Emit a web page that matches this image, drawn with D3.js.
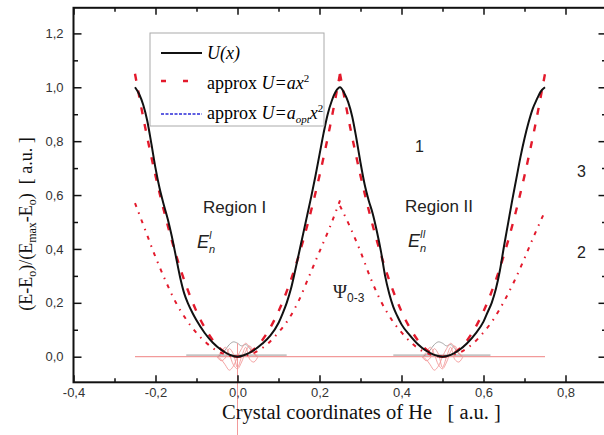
<!DOCTYPE html>
<html>
<head>
<meta charset="utf-8">
<script src="https://cdn.jsdelivr.net/npm/d3@7"></script>
<style>
body { margin: 0; background: #fff; }
svg { display: block; }
text { font-family: "Liberation Sans", Arial, sans-serif; }
.serif { font-family: "Liberation Serif", "Times New Roman", serif; }
</style>
</head>
<body>
<div id="vis"></div>
<script>
// axis ticks
var xMajor = [-0.4, -0.2, 0, 0.2, 0.4, 0.6, 0.8];
var xMinor = [-0.3, -0.1, 0.1, 0.3, 0.5, 0.7];
var yMajor = [0, 0.2, 0.4, 0.6, 0.8, 1.0, 1.2];
var yMinor = [0.1, 0.3, 0.5, 0.7, 0.9, 1.1];

// U(x)
var uX = [-0.25,-0.24,-0.23,-0.22,-0.21,-0.20,-0.19,-0.18,-0.17,-0.16,-0.15,-0.14,-0.13,-0.12,-0.11,-0.10,-0.08,-0.06,-0.04,-0.02,0,
          0.02,0.04,0.06,0.08,0.10,0.11,0.12,0.13,0.14,0.15,0.16,0.17,0.18,0.19,0.20,0.21,0.22,0.23,0.24,0.25,
          0.26,0.27,0.28,0.29,0.30,0.31,0.32,0.33,0.34,0.35,0.36,0.37,0.38,0.39,0.40,0.42,0.44,0.46,0.48,0.50,
          0.52,0.54,0.56,0.58,0.60,0.61,0.62,0.63,0.64,0.65,0.66,0.67,0.68,0.69,0.70,0.71,0.72,0.73,0.74,0.75];
var uY = [1.0,0.975,0.935,0.875,0.79,0.70,0.625,0.565,0.51,0.445,0.37,0.295,0.235,0.195,0.163,0.135,0.088,0.052,0.026,0.008,0,
          0.008,0.024,0.048,0.078,0.125,0.16,0.2,0.25,0.315,0.385,0.455,0.525,0.595,0.67,0.75,0.83,0.9,0.95,0.985,1.0,
          0.98,0.945,0.89,0.81,0.72,0.64,0.58,0.53,0.465,0.39,0.3,0.235,0.185,0.15,0.12,0.08,0.046,0.022,0.007,0,
          0.007,0.024,0.05,0.085,0.13,0.165,0.2,0.25,0.32,0.41,0.495,0.58,0.66,0.74,0.81,0.87,0.92,0.955,0.985,1.0];

// approx U=ax^2 (red dashed), one per well
var axX1 = [-0.25,-0.225,-0.2,-0.175,-0.15,-0.125,-0.1,-0.075,-0.05,-0.025,0,0.025,0.05,0.075,0.1,0.125,0.15,0.175,0.2,0.225,0.25];
var axY1 = [1.05,0.85,0.672,0.515,0.378,0.263,0.168,0.095,0.042,0.011,0,0.011,0.042,0.095,0.168,0.263,0.378,0.515,0.672,0.85,1.05];
var axX2 = [0.25,0.275,0.3,0.325,0.35,0.375,0.4,0.425,0.45,0.475,0.5,0.525,0.55,0.575,0.6,0.625,0.65,0.675,0.7,0.725,0.75];
var axY2 = [1.05,0.85,0.672,0.515,0.378,0.263,0.168,0.095,0.042,0.011,0,0.011,0.042,0.095,0.168,0.263,0.378,0.515,0.672,0.85,1.05];

// approx U=a_opt x^2 (red dash-dot), one per well
var optX1 = axX1;
var optY1 = [0.57,0.47,0.37,0.28,0.2,0.138,0.088,0.05,0.022,0.006,0,0.006,0.022,0.05,0.09,0.14,0.21,0.3,0.39,0.48,0.58];
var optX2 = axX2;
var optY2 = [0.56,0.48,0.39,0.29,0.205,0.14,0.09,0.05,0.022,0.006,0,0.006,0.022,0.05,0.09,0.14,0.205,0.28,0.365,0.455,0.54];

// wave functions psi_0..psi_3 around each minimum
var wellCenters = [0, 0.5];
var psiX = [-0.05,-0.04,-0.03,-0.02,-0.01,0,0.01,0.02,0.03,0.04,0.05];
var psi0 = [0,0.008,0.025,0.045,0.055,0.05,0.04,0.045,0.03,0.01,0];
var psi1 = [0,-0.01,-0.03,-0.05,-0.035,0.0,0.03,0.05,0.035,0.01,0];
var psi2 = [0,0.015,0.035,0.01,-0.03,-0.045,-0.02,0.02,0.04,0.015,0];
var psi3 = [0,-0.015,-0.005,0.03,0.01,-0.04,0.0,0.035,-0.01,-0.02,0];
var levelX = [-0.25, 0.75];
var grayX1 = [-0.125, 0.12];
var grayX2 = [0.38, 0.617];
var grayLevel = 0.006;

var width = 604, height = 435;

var svg = d3.select('#vis')
    .append('svg')
    .attr('width', width)
    .attr('height', height);

var x = d3.scaleLinear().domain([-0.4, 0.9]).range([73.5, 606.5]);
var y = d3.scaleLinear().domain([-0.095, 1.295]).range([382.3, 7.8]);

var red = '#e31a2c';
var pink = '#f29a9a';

function fmt(d) {
    return (d < 0 ? '-' : '') + Math.abs(d).toFixed(1).replace('.', ',');
}

function zip(xs, ys) {
    return xs.map(function(v, i) { return [v, ys[i]]; });
}

var line = d3.line()
    .x(function(d) { return x(d[0]); })
    .y(function(d) { return y(d[1]); });
var smooth = d3.line()
    .curve(d3.curveMonotoneX)
    .x(function(d) { return x(d[0]); })
    .y(function(d) { return y(d[1]); });
var spline = d3.line()
    .curve(d3.curveCatmullRom)
    .x(function(d) { return x(d[0]); })
    .y(function(d) { return y(d[1]); });

// wave function baselines
svg.append('path')
    .attr('d', line(zip(levelX, [0, 0])))
    .attr('fill', 'none').attr('stroke', pink).attr('stroke-width', 1.3);
[grayX1, grayX2].forEach(function(gx) {
    svg.append('path')
        .attr('d', line(zip(gx, [grayLevel, grayLevel])))
        .attr('fill', 'none').attr('stroke', '#999').attr('stroke-width', 1);
});

wellCenters.forEach(function(c) {
    var xs = psiX.map(function(v) { return v + c; });
    [[psi0, '#999'], [psi1, pink], [psi2, pink], [psi3, pink]].forEach(function(p) {
        svg.append('path')
            .attr('d', spline(zip(xs, p[0])))
            .attr('fill', 'none').attr('stroke', p[1]).attr('stroke-width', 0.9);
    });
});

// vertical marker at x = 0
svg.append('line')
    .attr('x1', x(0)).attr('x2', x(0))
    .attr('y1', y(0.05)).attr('y2', height)
    .attr('stroke', pink).attr('stroke-width', 1);

// approx curves
[[optX1, optY1], [optX2, optY2]].forEach(function(s) {
    svg.append('path')
        .attr('d', smooth(zip(s[0], s[1])))
        .attr('fill', 'none').attr('stroke', red).attr('stroke-width', 2)
        .attr('stroke-dasharray', '4,6,1.5,6');
});
[[axX1, axY1], [axX2, axY2]].forEach(function(s) {
    svg.append('path')
        .attr('d', smooth(zip(s[0], s[1])))
        .attr('fill', 'none').attr('stroke', red).attr('stroke-width', 2.4)
        .attr('stroke-dasharray', '7,10');
});

// U(x)
svg.append('path')
    .attr('d', smooth(zip(uX, uY)))
    .attr('fill', 'none').attr('stroke', '#111').attr('stroke-width', 2);

// axes, ticks pointing inward
function strip(g) {
    g.select('.domain').remove();
    g.selectAll('line').attr('stroke', '#111').attr('stroke-width', 1.5);
    g.selectAll('text').attr('fill', '#333').style('font-size', '13px')
        .style('font-family', '"Liberation Sans", Arial, sans-serif');
}
var x0 = x.range()[0], x1 = x.range()[1];
var y0 = y.range()[0], y1 = y.range()[1];

svg.append('g').attr('transform', 'translate(0,' + y0 + ')')
    .call(d3.axisBottom(x).tickValues(xMajor).tickSize(-7).tickPadding(5).tickFormat(fmt)).call(strip);
svg.append('g').attr('transform', 'translate(0,' + y0 + ')')
    .call(d3.axisBottom(x).tickValues(xMinor).tickSize(-4).tickFormat('')).call(strip);
svg.append('g').attr('transform', 'translate(0,' + y1 + ')')
    .call(d3.axisTop(x).tickValues(xMajor).tickSize(-7).tickFormat('')).call(strip);
svg.append('g').attr('transform', 'translate(0,' + y1 + ')')
    .call(d3.axisTop(x).tickValues(xMinor).tickSize(-4).tickFormat('')).call(strip);
svg.append('g').attr('transform', 'translate(' + x0 + ',0)')
    .call(d3.axisLeft(y).tickValues(yMajor).tickSize(-8).tickPadding(10).tickFormat(fmt)).call(strip);
svg.append('g').attr('transform', 'translate(' + x0 + ',0)')
    .call(d3.axisLeft(y).tickValues(yMinor).tickSize(-4.5).tickFormat('')).call(strip);
svg.append('g').attr('transform', 'translate(' + x1 + ',0)')
    .call(d3.axisRight(y).tickValues(yMajor).tickSize(-8).tickFormat('')).call(strip);
svg.append('g').attr('transform', 'translate(' + x1 + ',0)')
    .call(d3.axisRight(y).tickValues(yMinor).tickSize(-4.5).tickFormat('')).call(strip);

svg.append('rect')
    .attr('x', x0).attr('y', y1)
    .attr('width', x1 - x0).attr('height', y0 - y1)
    .attr('fill', 'none').attr('stroke', '#111').attr('stroke-width', 2);

// legend
var lg = svg.append('g');
lg.append('rect')
    .attr('x', 150).attr('y', 33).attr('width', 174).attr('height', 93)
    .attr('fill', '#fff').attr('stroke', '#aaa').attr('stroke-width', 1);
lg.append('line').attr('x1', 161).attr('x2', 202).attr('y1', 53).attr('y2', 53)
    .attr('stroke', '#111').attr('stroke-width', 2);
lg.append('line').attr('x1', 161).attr('x2', 202).attr('y1', 81).attr('y2', 81)
    .attr('stroke', red).attr('stroke-width', 2.4).attr('stroke-dasharray', '5,17');
lg.append('line').attr('x1', 161).attr('x2', 202).attr('y1', 114).attr('y2', 114)
    .attr('stroke', '#2a2ad8').attr('stroke-width', 1.3).attr('stroke-dasharray', '3,1.5');

var t1 = lg.append('text').attr('class', 'serif').attr('x', 207).attr('y', 59).style('font-size', '18px');
t1.append('tspan').style('font-style', 'italic').text('U(x)');

var t2 = lg.append('text').attr('class', 'serif').attr('x', 207).attr('y', 89).style('font-size', '18px');
t2.append('tspan').text('approx ');
t2.append('tspan').style('font-style', 'italic').text('U=ax');
t2.append('tspan').attr('dy', -7).style('font-size', '11px').text('2');

var t3 = lg.append('text').attr('class', 'serif').attr('x', 207).attr('y', 119).style('font-size', '18px');
t3.append('tspan').text('approx ');
t3.append('tspan').style('font-style', 'italic').text('U=a');
t3.append('tspan').attr('dy', 4).style('font-size', '11px').style('font-style', 'italic').text('opt');
t3.append('tspan').attr('dy', -4).style('font-style', 'italic').text('x');
t3.append('tspan').attr('dy', -7).style('font-size', '11px').text('2');

// annotations
function label(tx, ty, s, size) {
    return svg.append('text').attr('x', tx).attr('y', ty).style('font-size', size + 'px').attr('fill', '#222').text(s);
}
label(203, 213, 'Region I', 17);
label(405, 212, 'Region II', 17);
label(415, 152, '1', 16);
label(577, 177, '3', 16);
label(577, 258, '2', 16);

function energy(tx, ty, sup) {
    var t = svg.append('text').attr('x', tx).attr('y', ty).style('font-size', '18px')
        .style('font-style', 'italic').attr('fill', '#222');
    t.append('tspan').text('E');
    t.append('tspan').attr('dy', -9).style('font-size', '10px').text(sup);
    t.append('tspan').attr('x', tx + 12).attr('dy', 14).style('font-size', '11px').text('n');
}
energy(197, 248, 'I');
energy(408, 247, 'II');

var psiLabel = svg.append('text').attr('x', 333).attr('y', 298).attr('fill', '#222');
psiLabel.append('tspan').attr('class', 'serif').style('font-size', '19px').text('\u03A8');
psiLabel.append('tspan').attr('dy', 4).style('font-size', '12px').text('0-3');

// axis titles
var xt = svg.append('text').attr('class', 'serif')
    .attr('x', 222).attr('y', 419)
    .style('font-size', '20.5px').style('white-space', 'pre').attr('fill', '#111');
xt.text('Crystal coordinates of He   [ a.u. ]');

var yt = svg.append('text').attr('class', 'serif')
    .attr('transform', 'translate(32,224) rotate(-90)')
    .attr('text-anchor', 'middle')
    .style('font-size', '18px').style('white-space', 'pre').attr('fill', '#111');
yt.append('tspan').text('(E-E');
yt.append('tspan').attr('dy', 4).style('font-size', '12px').text('o');
yt.append('tspan').attr('dy', -4).text(')/(E');
yt.append('tspan').attr('dy', 4).style('font-size', '12px').text('max');
yt.append('tspan').attr('dy', -4).text('-E');
yt.append('tspan').attr('dy', 4).style('font-size', '12px').text('o');
yt.append('tspan').attr('dy', -4).text(')  [ a.u. ]');
</script>
</body>
</html>
